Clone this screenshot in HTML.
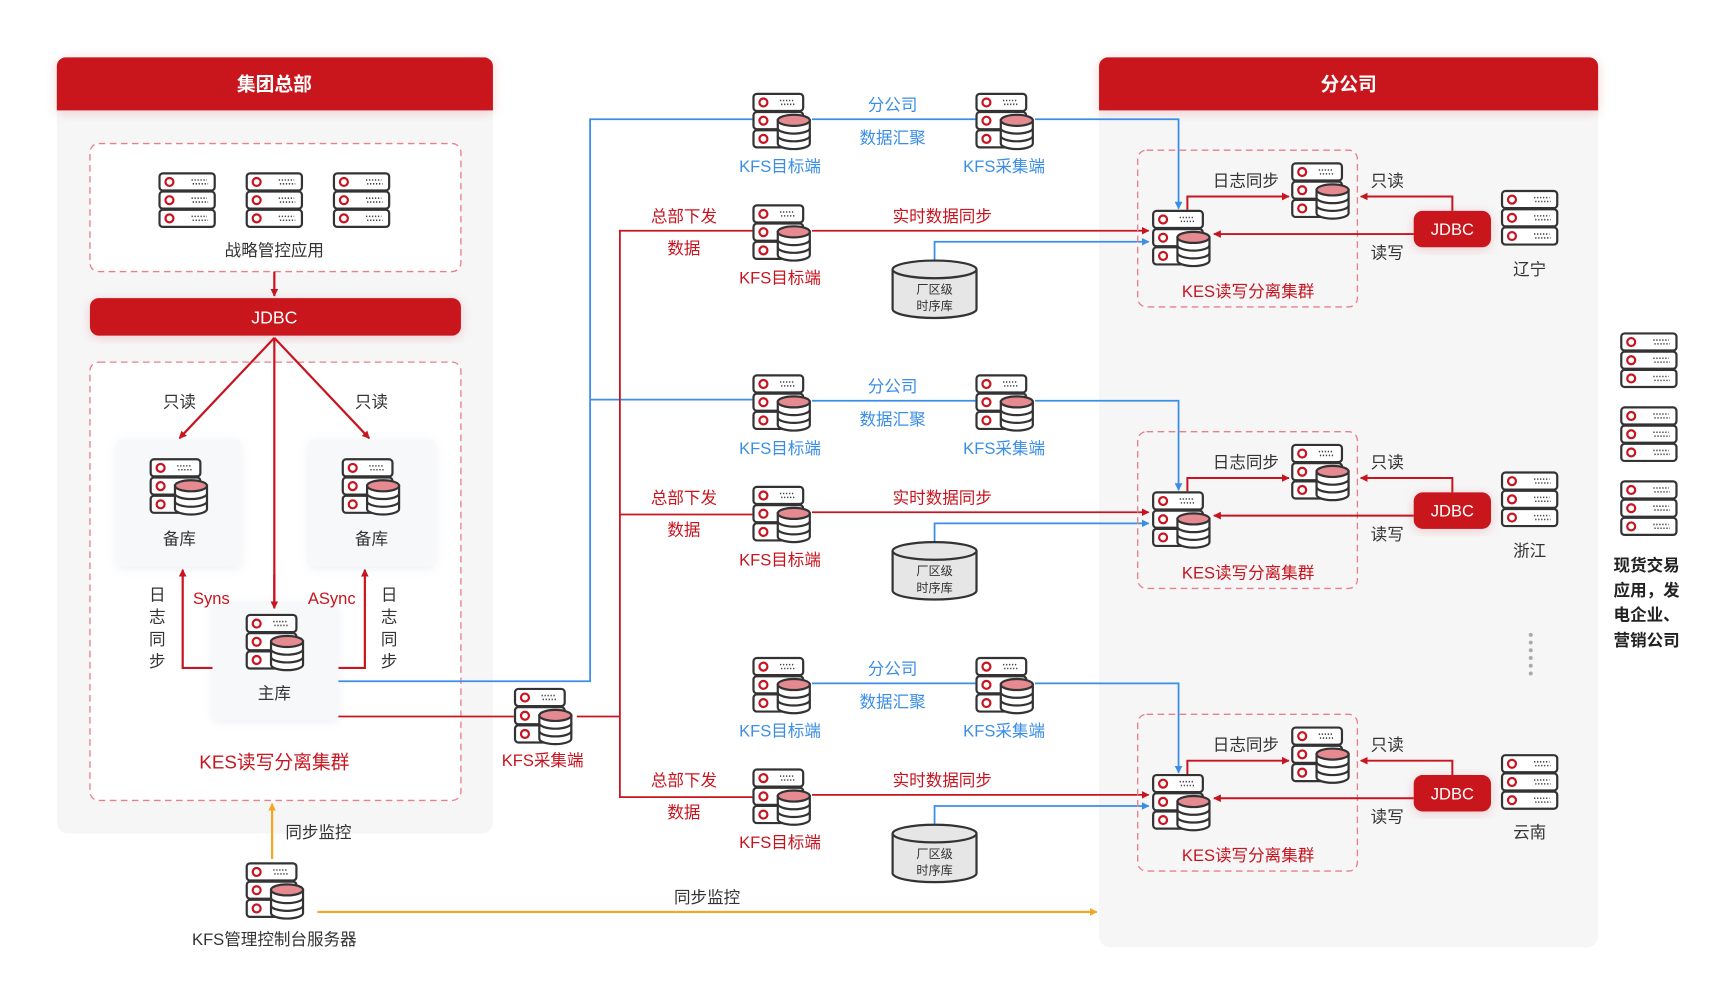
<!DOCTYPE html>
<html><head><meta charset="utf-8"><style>
html,body{margin:0;padding:0;background:#fff;}
svg{display:block;}
text{font-family:"Liberation Sans","Noto Sans CJK SC",sans-serif;}
</style></head><body>
<svg width="1730" height="1008" viewBox="0 0 1566 913" xmlns="http://www.w3.org/2000/svg">
<defs>
<filter id="sh" x="-20%" y="-20%" width="140%" height="140%"><feDropShadow dx="0" dy="2" stdDeviation="5" flood-color="#c8141f" flood-opacity="0.18"/></filter>
<filter id="sh2" x="-20%" y="-20%" width="140%" height="140%"><feDropShadow dx="0" dy="2" stdDeviation="4" flood-color="#8090b0" flood-opacity="0.15"/></filter>
<marker id="ar" viewBox="0 0 10 10" refX="9" refY="5" markerWidth="7" markerHeight="7" orient="auto-start-reverse" markerUnits="userSpaceOnUse"><path d="M0,0 L10,5 L0,10 z" fill="#c8141f"/></marker>
<marker id="ab" viewBox="0 0 10 10" refX="9" refY="5" markerWidth="7" markerHeight="7" orient="auto" markerUnits="userSpaceOnUse"><path d="M0,0 L10,5 L0,10 z" fill="#3a8ee6"/></marker>
<marker id="ao" viewBox="0 0 10 10" refX="9" refY="5" markerWidth="7" markerHeight="7" orient="auto" markerUnits="userSpaceOnUse"><path d="M0,0 L10,5 L0,10 z" fill="#f5a623"/></marker>
<g id="row">
<rect x="1" y="0" width="50" height="15.5" rx="3" fill="#fff" stroke="#333" stroke-width="2"/>
<circle cx="10" cy="7.8" r="3.6" fill="none" stroke="#c8141f" stroke-width="2"/>
<path d="M30 6h14M31 9.5h14" stroke="#444" stroke-width="1.4" stroke-dasharray="1.2 1.5"/>
</g>
<g id="srv"><use href="#row" y="1"/><use href="#row" y="17.5"/><use href="#row" y="34"/></g>
<g id="rowS">
<rect x="1" y="0" width="45" height="15.5" rx="3" fill="#fff" stroke="#333" stroke-width="2"/>
<circle cx="10" cy="7.8" r="3.6" fill="none" stroke="#c8141f" stroke-width="2"/>
<path d="M25 6h13M26 9.5h13" stroke="#444" stroke-width="1.4" stroke-dasharray="1.2 1.5"/>
</g>
<g id="db">
<use href="#rowS" y="1"/><use href="#rowS" y="17.5"/><use href="#rowS" y="34"/>
<path d="M23 25 v21 a14.5 5 0 0 0 29 0 v-21 z" fill="#fff" stroke="#333" stroke-width="2"/>
<ellipse cx="37.5" cy="25" rx="14.5" ry="5" fill="#e58a90" stroke="#333" stroke-width="2"/>
<path d="M23 32 a14.5 5 0 0 0 29 0 M23 39 a14.5 5 0 0 0 29 0" fill="none" stroke="#333" stroke-width="2"/>
</g>
<g id="tsdb">
<path d="M0 9 v36 a38 8 0 0 0 76 0 v-36" fill="#e6e6e6" stroke="#333" stroke-width="2"/>
<ellipse cx="38" cy="9" rx="38" ry="8" fill="#e6e6e6" stroke="#333" stroke-width="2"/>
<text x="38" y="31" font-size="11" fill="#333" text-anchor="middle">厂区级</text>
<text x="38" y="46" font-size="11" fill="#333" text-anchor="middle">时序库</text>
</g>
</defs>

<!-- HQ panel -->
<rect x="51" y="52" width="395" height="703" rx="10" fill="#f6f6f7"/>
<path d="M51 100 V60 a8 8 0 0 1 8 -8 H438 a8 8 0 0 1 8 8 V100 z" fill="#c8141f" filter="url(#sh)"/>
<text x="248" y="82" font-size="17" fill="#fff" text-anchor="middle" font-weight="bold">集团总部</text>

<rect x="81" y="130" width="336" height="116" rx="8" fill="#fff" stroke="#e8808a" stroke-width="1.2" stroke-dasharray="6 4"/>
<use href="#srv" x="143" y="156"/><use href="#srv" x="222" y="156"/><use href="#srv" x="301" y="156"/>
<text x="248" y="232" font-size="15" fill="#333" text-anchor="middle">战略管控应用</text>
<line x1="248" y1="246" x2="248" y2="268" stroke="#c8141f" stroke-width="2" marker-end="url(#ar)"/>
<rect x="81" y="270" width="336" height="34" rx="8" fill="#c8141f" filter="url(#sh)"/>
<text x="248" y="293" font-size="16" fill="#fff" text-anchor="middle">JDBC</text>

<rect x="81" y="328" width="336" height="397" rx="8" fill="#fff" stroke="#e8808a" stroke-width="1.2" stroke-dasharray="6 4"/>
<line x1="248" y1="306" x2="162" y2="397" stroke="#c8141f" stroke-width="2" marker-end="url(#ar)"/>
<line x1="248" y1="306" x2="334" y2="397" stroke="#c8141f" stroke-width="2" marker-end="url(#ar)"/>
<line x1="248" y1="306" x2="248" y2="551" stroke="#c8141f" stroke-width="2" marker-end="url(#ar)"/>
<text x="162" y="369" font-size="15" fill="#333" text-anchor="middle">只读</text>
<text x="336" y="369" font-size="15" fill="#333" text-anchor="middle">只读</text>

<rect x="105" y="398" width="113" height="115" rx="5" fill="#f7f8fa" filter="url(#sh2)"/>
<rect x="279" y="398" width="115" height="115" rx="5" fill="#f7f8fa" filter="url(#sh2)"/>
<use href="#db" x="135" y="415"/><use href="#db" x="309" y="415"/>
<text x="162" y="493" font-size="15" fill="#333" text-anchor="middle">备库</text>
<text x="336" y="493" font-size="15" fill="#333" text-anchor="middle">备库</text>

<polyline points="192,605 165,605 165,516" fill="none" stroke="#c8141f" stroke-width="2" marker-end="url(#ar)"/>
<polyline points="306,605 330,605 330,516" fill="none" stroke="#c8141f" stroke-width="2" marker-end="url(#ar)"/>
<rect x="192" y="545" width="114" height="107" rx="5" fill="#f7f8fa" filter="url(#sh2)"/>
<line x1="248" y1="520" x2="248" y2="551" stroke="#c8141f" stroke-width="2" marker-end="url(#ar)"/>
<use href="#db" x="222" y="556"/>
<text x="248" y="633" font-size="15" fill="#333" text-anchor="middle">主库</text>
<g font-size="15" fill="#333" text-anchor="middle">
<text x="142" y="544">日</text><text x="142" y="564">志</text><text x="142" y="584">同</text><text x="142" y="604">步</text>
<text x="352" y="544">日</text><text x="352" y="564">志</text><text x="352" y="584">同</text><text x="352" y="604">步</text>
</g>
<text x="191" y="547" font-size="15" fill="#c8141f" text-anchor="middle">Syns</text>
<text x="300" y="547" font-size="15" fill="#c8141f" text-anchor="middle">ASync</text>
<text x="248" y="696" font-size="17" fill="#c8141f" text-anchor="middle">KES读写分离集群</text>

<!-- Branch panel -->
<rect x="995" y="52" width="452" height="806" rx="10" fill="#f6f6f7"/>
<path d="M995 100 V60 a8 8 0 0 1 8 -8 H1439 a8 8 0 0 1 8 8 V100 z" fill="#c8141f" filter="url(#sh)"/>
<text x="1221" y="82" font-size="17" fill="#fff" text-anchor="middle" font-weight="bold">分公司</text>

<!-- connectors from HQ -->
<polyline points="306,617 534,617 534,108 681,108" fill="none" stroke="#3a8ee6" stroke-width="1.6"/>
<line x1="534" y1="362" x2="681" y2="362" stroke="#3a8ee6" stroke-width="1.6"/>
<polyline points="306,649 465,649" fill="none" stroke="#c8141f" stroke-width="1.6"/>
<polyline points="522,649 561,649" fill="none" stroke="#c8141f" stroke-width="1.6"/>
<polyline points="681,209 561,209 561,722 681,722" fill="none" stroke="#c8141f" stroke-width="1.6"/>
<line x1="561" y1="466" x2="681" y2="466" stroke="#c8141f" stroke-width="1.6"/>
<use href="#db" x="465" y="623"/>
<text x="491" y="694" font-size="15" fill="#c8141f" text-anchor="middle">KFS采集端</text>

<!-- repeated rows -->
<g id="sec">
<line x1="735" y1="108" x2="883" y2="108" stroke="#3a8ee6" stroke-width="1.6"/>
<polyline points="937,108 1067,108 1067,189" fill="none" stroke="#3a8ee6" stroke-width="1.6" marker-end="url(#ab)"/>
<line x1="735" y1="209" x2="1040" y2="209" stroke="#c8141f" stroke-width="1.6" marker-end="url(#ar)"/>
<polyline points="846,235 846,219 1040,219" fill="none" stroke="#3a8ee6" stroke-width="1.6" marker-end="url(#ab)"/>
<use href="#db" x="681" y="84"/>
<use href="#db" x="883" y="84"/>
<use href="#db" x="681" y="185"/>
<use href="#tsdb" x="808" y="235"/>
<text x="808" y="100" font-size="15" fill="#3a8ee6" text-anchor="middle">分公司</text>
<text x="808" y="130" font-size="15" fill="#3a8ee6" text-anchor="middle">数据汇聚</text>
<text x="706" y="156" font-size="15" fill="#3a8ee6" text-anchor="middle">KFS目标端</text>
<text x="909" y="156" font-size="15" fill="#3a8ee6" text-anchor="middle">KFS采集端</text>
<text x="619" y="201" font-size="15" fill="#c8141f" text-anchor="middle">总部下发</text>
<text x="619" y="230" font-size="15" fill="#c8141f" text-anchor="middle">数据</text>
<text x="706" y="257" font-size="15" fill="#c8141f" text-anchor="middle">KFS目标端</text>
<text x="853" y="201" font-size="15" fill="#c8141f" text-anchor="middle">实时数据同步</text>

<rect x="1030" y="136" width="199" height="142" rx="8" fill="none" stroke="#e8808a" stroke-width="1.2" stroke-dasharray="6 4"/>
<polyline points="1075,190 1075,178 1167,178" fill="none" stroke="#c8141f" stroke-width="1.8" marker-end="url(#ar)"/>
<use href="#db" x="1043" y="190"/>
<use href="#db" x="1169" y="147"/>
<text x="1128" y="169" font-size="15" fill="#333" text-anchor="middle">日志同步</text>
<polyline points="1315,191 1315,178 1232,178" fill="none" stroke="#c8141f" stroke-width="1.8" marker-end="url(#ar)"/>
<line x1="1280" y1="212" x2="1099" y2="212" stroke="#c8141f" stroke-width="1.8" marker-end="url(#ar)"/>
<rect x="1280" y="191" width="70" height="33" rx="8" fill="#c8141f" filter="url(#sh)"/>
<text x="1315" y="213" font-size="15" fill="#fff" text-anchor="middle">JDBC</text>
<text x="1256" y="169" font-size="15" fill="#333" text-anchor="middle">只读</text>
<text x="1256" y="234" font-size="15" fill="#333" text-anchor="middle">读写</text>
<use href="#srv" x="1359" y="172"/>
<text x="1130" y="269" font-size="15" fill="#c8141f" text-anchor="middle">KES读写分离集群</text>
</g>
<use href="#sec" y="255"/>
<use href="#sec" y="511"/>
<text x="1385" y="249" font-size="15" fill="#333" text-anchor="middle">辽宁</text>
<text x="1385" y="504" font-size="15" fill="#333" text-anchor="middle">浙江</text>
<text x="1385" y="759" font-size="15" fill="#333" text-anchor="middle">云南</text>
<g fill="#aaa"><circle cx="1386" cy="575" r="1.8"/><circle cx="1386" cy="582" r="1.8"/><circle cx="1386" cy="589" r="1.8"/><circle cx="1386" cy="596" r="1.8"/><circle cx="1386" cy="603" r="1.8"/><circle cx="1386" cy="610" r="1.8"/></g>

<!-- right side -->
<use href="#srv" x="1467" y="301"/><use href="#srv" x="1467" y="368"/><use href="#srv" x="1467" y="435"/>
<g font-size="15" fill="#222" font-weight="bold">
<text x="1461" y="517">现货交易</text><text x="1461" y="540">应用，发</text><text x="1461" y="562">电企业、</text><text x="1461" y="585">营销公司</text>
</g>

<!-- KFS manager -->
<use href="#db" x="222" y="781"/>
<line x1="246" y1="778" x2="246" y2="728" stroke="#f5a623" stroke-width="2" marker-end="url(#ao)"/>
<text x="288" y="759" font-size="15" fill="#333" text-anchor="middle">同步监控</text>
<line x1="287" y1="826" x2="993" y2="826" stroke="#f5a623" stroke-width="2" marker-end="url(#ao)"/>
<text x="640" y="818" font-size="15" fill="#333" text-anchor="middle">同步监控</text>
<text x="248" y="856" font-size="15" fill="#333" text-anchor="middle">KFS管理控制台服务器</text>
</svg>
</body></html>
